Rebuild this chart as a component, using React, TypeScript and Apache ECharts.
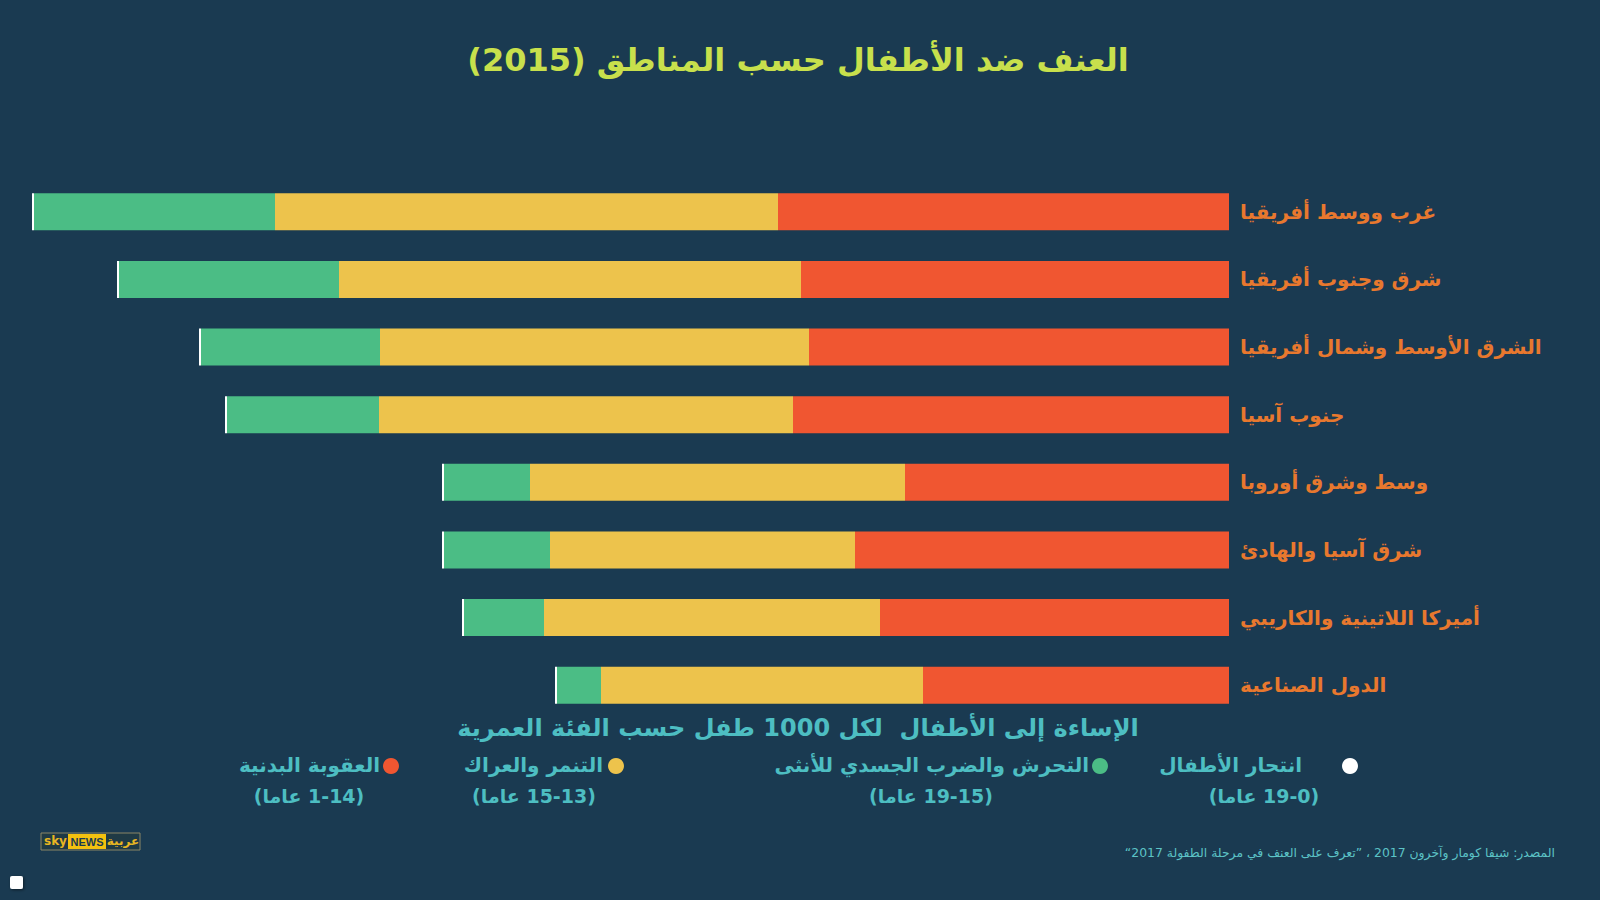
import React, { useEffect, useRef } from "react";
import * as echarts from "echarts";

const RLM = "\u200F";

const titleText = "العنف ضد الأطفال حسب المناطق (2015)";
const legendHeading = "الإساءة إلى الأطفال  لكل 1000 طفل حسب الفئة العمرية";
const sourceText = "المصدر: شيفا كومار وآخرون 2017 ، ”تعرف على العنف في مرحلة الطفولة 2017“";

const categories = [
  "غرب ووسط أفريقيا",
  "شرق وجنوب أفريقيا",
  "الشرق الأوسط وشمال أفريقيا",
  "جنوب آسيا",
  "وسط وشرق أوروبا",
  "شرق آسيا والهادئ",
  "أميركا اللاتينية والكاريبي",
  "الدول الصناعية",
];

// values (arbitrary units, stacked from the right)
const physicalPunishment = [451, 428, 420, 436, 324, 374, 349, 306];
const bullying = [503, 462, 429, 414, 375, 305, 336, 322];
const harassment = [241, 220, 179, 152, 86, 106, 80, 44];
const suicide = [2, 2, 2, 2, 2, 2, 2, 2];

const seriesNames = [
  "العقوبة البدنية",
  "التنمر والعراك",
  "التحرش والضرب الجسدي للأنثى",
  "انتحار الأطفال",
];
const ageRanges = ["(1-14 عاما)", "(15-13 عاما)", "(19-15 عاما)", "(19-0 عاما)"];
const seriesColors = ["#f05631", "#edc34c", "#4bbd85", "#ffffff"];

const AR_FONT = "DejaVu Sans";

export default function App() {
  const ref = useRef<HTMLDivElement>(null);

  useEffect(() => {
    if (!ref.current) return;
    const chart = echarts.init(ref.current, null, { renderer: "svg" });

    const seriesData = [physicalPunishment, bullying, harassment, suicide];

    // legend layout (right edge of first-line text, dot centre, centre of age line)
    const legendLayout = [
      { textRight: 380, dotX: 391, ageX: 309 },
      { textRight: 603, dotX: 616, ageX: 534 },
      { textRight: 1089, dotX: 1100, ageX: 931 },
      { textRight: 1302, dotX: 1350, ageX: 1264 },
    ];

    const legendGraphics: any[] = [];
    seriesNames.forEach((name, i) => {
      const l = legendLayout[i];
      legendGraphics.push({
        type: "circle",
        shape: { cx: l.dotX, cy: 766, r: 8 },
        style: { fill: seriesColors[i] },
      });
      legendGraphics.push({
        type: "text",
        x: l.textRight,
        y: 765,
        style: {
          text: name,
          fill: "#4dbec2",
          font: `bold 20px '${AR_FONT}'`,
          align: "right",
          verticalAlign: "middle",
        },
      });
      legendGraphics.push({
        type: "text",
        x: l.ageX,
        y: 796,
        style: {
          text: RLM + ageRanges[i] + RLM,
          fill: "#4dbec2",
          font: `bold 19px '${AR_FONT}'`,
          align: "center",
          verticalAlign: "middle",
        },
      });
    });

    const option: any = {
      animation: false,
      backgroundColor: "#1a3a51",
      grid: { left: 29, right: 371, top: 178, bottom: 181, containLabel: false },
      xAxis: {
        type: "value",
        inverse: true,
        min: 0,
        max: 1200,
        show: false,
        splitLine: { show: false },
      },
      yAxis: {
        type: "category",
        data: categories,
        inverse: true,
        position: "right",
        axisLine: { show: false },
        axisTick: { show: false },
        splitLine: { show: false },
        axisLabel: {
          color: "#e8782e",
          fontSize: 20,
          fontWeight: "bold",
          fontFamily: AR_FONT,
          align: "left",
          margin: 11,
        },
      },
      series: seriesNames.map((name, i) => ({
        name,
        type: "bar",
        stack: "total",
        barWidth: 37,
        data: seriesData[i],
        itemStyle: { color: seriesColors[i] },
        emphasis: { disabled: true },
      })),
      graphic: [
        {
          type: "text",
          x: 798,
          y: 60,
          style: {
            text: titleText + RLM,
            fill: "#c8e04c",
            font: `bold 32px '${AR_FONT}'`,
            align: "center",
            verticalAlign: "middle",
          },
        },
        {
          type: "text",
          x: 798,
          y: 728,
          style: {
            text: legendHeading,
            fill: "#4dbec2",
            font: `bold 24px '${AR_FONT}'`,
            align: "center",
            verticalAlign: "middle",
          },
        },
        ...legendGraphics,
        {
          type: "text",
          x: 1555,
          y: 852,
          style: {
            text: RLM + sourceText + RLM,
            fill: "#5cc3c6",
            font: `12.4px '${AR_FONT}'`,
            align: "right",
            verticalAlign: "middle",
          },
        },
        // logo
        {
          type: "group",
          x: 41,
          y: 833,
          children: [
            {
              type: "rect",
              shape: { x: 0, y: 0, width: 99, height: 17 },
              style: { fill: "#1f3a45", stroke: "#8a8566", lineWidth: 1 },
            },
            {
              type: "text",
              x: 3,
              y: 8,
              style: {
                text: "sky",
                fill: "#e8b622",
                font: "bold 12px 'DejaVu Sans'",
                align: "left",
                verticalAlign: "middle",
              },
            },
            {
              type: "rect",
              shape: { x: 27, y: 1, width: 38, height: 15 },
              style: { fill: "#f3c10f" },
            },
            {
              type: "text",
              x: 46,
              y: 8.5,
              style: {
                text: "NEWS",
                fill: "#1a3a51",
                font: "bold 11px 'Liberation Sans'",
                align: "center",
                verticalAlign: "middle",
              },
            },
            {
              type: "text",
              x: 82,
              y: 8,
              style: {
                text: "عربية",
                fill: "#e8b622",
                font: "bold 12px 'DejaVu Sans'",
                align: "center",
                verticalAlign: "middle",
              },
            },
          ],
        },
        {
          type: "rect",
          shape: { x: 10, y: 876, width: 13, height: 13, r: 2 },
          style: {
            fill: "#ffffff",
            shadowBlur: 3,
            shadowColor: "rgba(0,0,0,0.5)",
            shadowOffsetX: 1,
            shadowOffsetY: 1,
          },
        },
      ],
    };

    chart.setOption(option);
    return () => chart.dispose();
  }, []);

  return (
    <div
      ref={ref}
      style={{ position: "fixed", left: 0, top: 0, width: 1600, height: 900 }}
    />
  );
}
